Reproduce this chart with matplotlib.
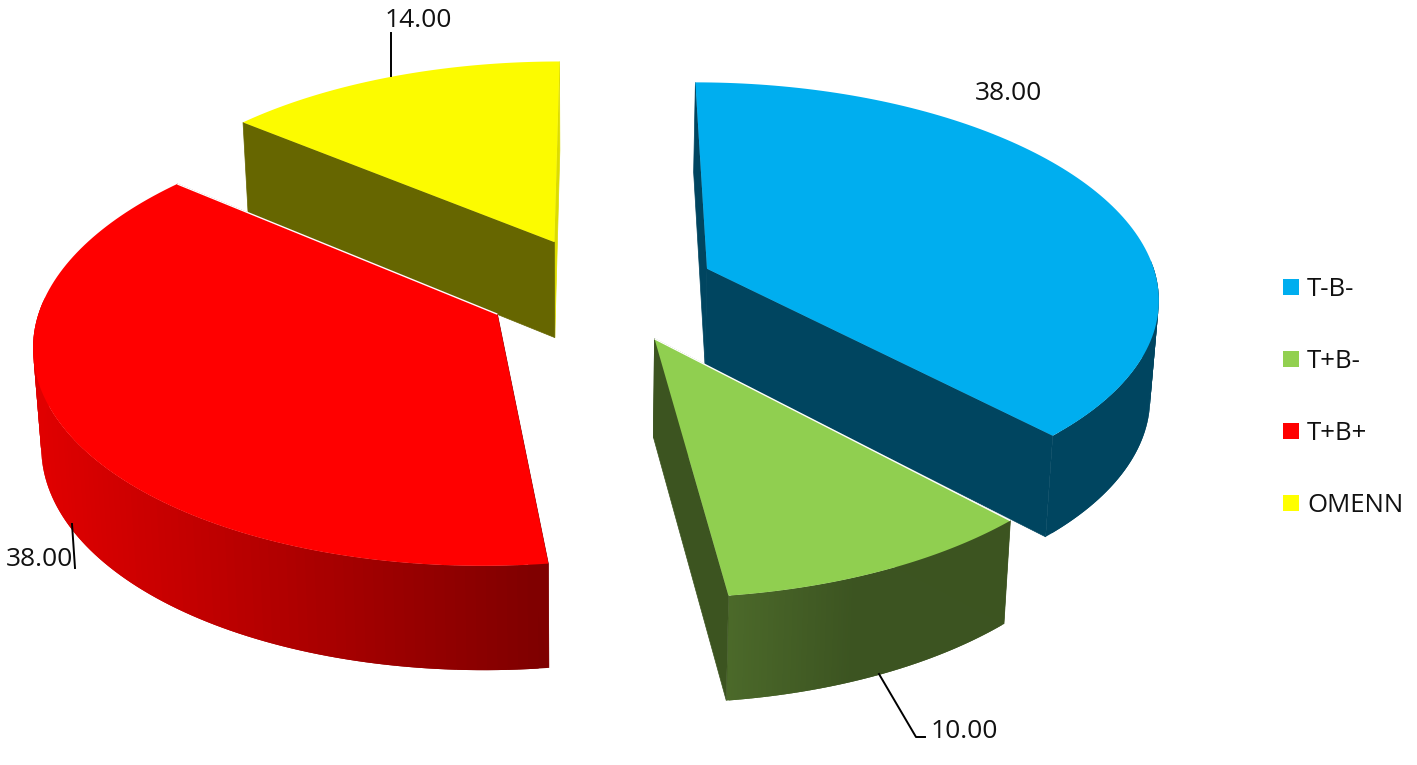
import numpy as np
import matplotlib
matplotlib.use("Agg")
import matplotlib.pyplot as plt
from matplotlib.patches import Polygon, Rectangle

# Data
categories = ['T-B-', 'T+B-', 'T+B+', 'OMENN']
values = [38.0, 10.0, 38.0, 14.0]
top_colors = ['#00AEEF', '#90CF50', '#FF0000', '#FCFB00']
wall_colors = ['#004560', '#3C5420', '#800000', '#666600']

# Perspective of the pie, in pixels
cx, cy = 600, 290
radius_x, radius_y = 452, 213.8
persp = 0.122
explode = 0.26
# small per-slice shift, in pixels
nudge = [(-1, -1), (3, -3), (2, -3), (3, 1)]


def project(u, v, z=0.0):
    w = 1 + persp * v
    x = cx + radius_x * u / w
    y = cy - radius_y * v / w
    y = y + z * (97 - 6.5 * v)
    x = 580 + (x - 580) * (1 - 0.015 * z)
    return x, y


def mix(c0, c1, t):
    t = np.clip(t, 0, 1)
    return tuple((1 - t) * a / 255 + t * b / 255 for a, b in zip(c0, c1))


def wall_shade(i, x):
    if i == 2:
        return mix((224, 0, 0), (126, 0, 0), (x - 40) / 510)
    if i == 1:
        return mix((76, 106, 42), (60, 84, 33), (x - 726) / 130)
    return wall_colors[i]


plt.rcParams['font.family'] = ['Open Sans', 'DejaVu Sans']
fig = plt.figure(figsize=(14.17, 7.65), dpi=100)
ax = fig.add_axes([0, 0, 1, 1])
ax.set_xlim(0, 1417)
ax.set_ylim(765, 0)
ax.axis('off')

shares = np.array(values) / sum(values) * 2 * np.pi
starts = np.concatenate(([0], np.cumsum(shares)[:-1]))
draw_order = [3, 0, 2, 1]

for i in draw_order:
    a0, a1 = starts[i], starts[i] + shares[i]
    mid = (a0 + a1) / 2
    ou, ov = explode * np.sin(mid), explode * np.cos(mid)
    th = np.linspace(a0, a1, 121)
    us = ou + np.sin(th)
    vs = ov + np.cos(th)
    dx, dy = nudge[i]

    def pt(u, v, z=0.0):
        x, y = project(u, v, z)
        return x + dx, y + dy

    # outer wall, only the near side shows
    for j in range(len(th) - 2):
        if np.cos(th[j]) > 0.05:
            continue
        p = [pt(us[j], vs[j]), pt(us[j + 1], vs[j + 1]), pt(us[j + 2], vs[j + 2]),
             pt(us[j + 2], vs[j + 2], 1), pt(us[j + 1], vs[j + 1], 1), pt(us[j], vs[j], 1)]
        ax.add_patch(Polygon(p, closed=True, facecolor=wall_shade(i, p[0][0]), edgecolor='none'))

    # cut walls
    for k_end, (eu, ev) in enumerate([(us[-1], vs[-1]), (us[0], vs[0])]):
        p = [pt(ou, ov), pt(eu, ev), pt(eu, ev, 1), pt(ou, ov, 1)]
        col = wall_colors[i]
        if i == 3 and k_end == 0:
            col = '#DCDC00'
        ax.add_patch(Polygon(p, closed=True, facecolor=col, edgecolor=col, lw=0.5))

    # top face
    top = [pt(ou, ov)] + [pt(a, b) for a, b in zip(us, vs)]
    ax.add_patch(Polygon(top, closed=True, facecolor=top_colors[i], edgecolor='none'))

    # thin white seam where a slice overlaps the one behind
    if i in (1, 2):
        n = -1 if i == 2 else 0
        ex, ey = pt(us[n], vs[n])
        ax_x, ax_y = pt(ou, ov)
        ax.plot([ax_x, ex], [ax_y, ey], color='white', lw=1.0, solid_capstyle='butt')

# Data labels
label_pos = [(1008, 93), (964, 731), (39, 560), (418, 20)]
for v, (lx, ly) in zip(values, label_pos):
    ax.text(lx, ly, f"{v:.2f}", fontsize=19, color='#111111', ha='center', va='center')

# Leader lines
ax.plot([391, 391], [76, 33], color='black', lw=1.4)
ax.plot([72, 75], [524, 568], color='black', lw=1.4)
ax.plot([879, 916, 925], [674, 737, 737], color='black', lw=1.4)

# Legend
legend_y = [287, 359, 431, 503]
for name, col, ly in zip(categories, ['#00AEEF', '#92D050', '#FF0000', '#FFFF00'], legend_y):
    ax.add_patch(Rectangle((1283, ly - 8), 16, 16, facecolor=col, edgecolor='none'))
    ax.text(1307, ly + 2, name, fontsize=18.5, color='#111111', ha='left', va='center')

fig.savefig('out.png', dpi=100)
